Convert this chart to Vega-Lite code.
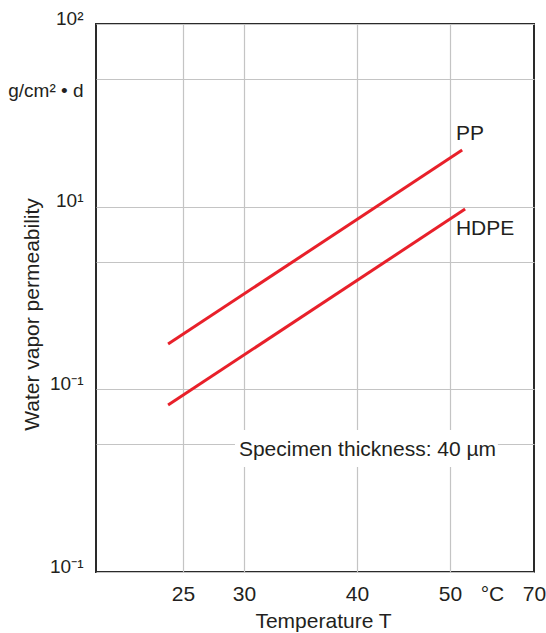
{
  "$schema": "https://vega.github.io/schema/vega-lite/v6.json",
  "width": 438,
  "height": 548,
  "autosize": {"type": "none"},
  "padding": {"left": 96, "top": 24, "right": 12, "bottom": 61},
  "background": "white",
  "config": {
    "font": "Liberation Sans",
    "view": {"stroke": "#2a2a2a", "strokeWidth": 2},
    "text": {"font": "Liberation Sans", "color": "#231f20"}
  },
  "datasets": {
    "curves": [
      {"material": "PP", "t": 23.8, "p": 1.77},
      {"material": "PP", "t": 52.9, "p": 20.4},
      {"material": "HDPE", "t": 23.8, "p": 0.82},
      {"material": "HDPE", "t": 53.6, "p": 9.7}
    ],
    "labels": [
      {"name": "PP", "t": 51.4, "p": 25},
      {"name": "HDPE", "t": 51.4, "p": 7.55}
    ],
    "note": [
      {"name": "Specimen thickness: 40 µm", "t": 41.13, "p": 0.431, "t_lo": 29.26, "t_hi": 61.4, "p_lo": 0.376, "p_hi": 0.599}
    ]
  },
  "layer": [
    {
      "data": {"name": "note"},
      "mark": {"type": "rect", "fill": "white", "stroke": null},
      "encoding": {
        "x": {"field": "t_lo", "type": "quantitative"},
        "x2": {"field": "t_hi"},
        "y": {"field": "p_lo", "type": "quantitative"},
        "y2": {"field": "p_hi"}
      }
    },
    {
      "data": {"name": "curves"},
      "mark": {"type": "line", "color": "#e8202a", "strokeWidth": 3, "strokeCap": "butt"},
      "encoding": {
        "x": {
          "field": "t",
          "type": "quantitative",
          "scale": {
            "type": "linear",
            "domain": [18, 25, 30, 40, 50, 60, 70],
            "range": [0, 87, 148, 261, 354, 396, 438],
            "nice": false,
            "zero": false
          },
          "axis": {
            "title": "Temperature T",
            "values": [25, 30, 40, 50, 60, 70],
            "labelExpr": "datum.value == 60 ? '°C' : datum.label",
            "ticks": false,
            "domain": false,
            "labelFontSize": 21,
            "labelColor": "#231f20",
            "labelPadding": 11,
            "labelOverlap": false,
            "labelBound": false,
            "labelFlush": false,
            "grid": true,
            "gridColor": "#c4c4c4",
            "gridWidth": 1.2,
            "gridOpacity": {"condition": {"test": "datum.value >= 60", "value": 0}, "value": 1},
            "titleFontSize": 21,
            "titleFontWeight": "normal",
            "titleColor": "#231f20",
            "titleX": 227,
            "titleY": 55,
            "titleAlign": "center",
            "titleBaseline": "alphabetic"
          }
        },
        "y": {
          "field": "p",
          "type": "quantitative",
          "scale": {"type": "log", "domain": [0.1, 100], "nice": false},
          "axis": {
            "title": "Water vapor permeability",
            "values": [0.1, 0.5, 1, 5, 10, 40, 50, 100],
            "labelExpr": "abs(datum.value - 100) < 0.01 ? '10²' : abs(datum.value - 10) < 0.01 ? '10¹' : abs(datum.value - 1) < 0.01 ? '10⁻¹' : abs(datum.value - 0.1) < 0.001 ? '10⁻¹' : abs(datum.value - 40) < 0.01 ? 'g/cm² • d' : ''",
            "ticks": false,
            "domain": false,
            "labelFontSize": 19,
            "labelColor": "#231f20",
            "labelPadding": 13,
            "labelBaseline": "alphabetic",
            "labelOverlap": false,
            "labelBound": false,
            "labelFlush": false,
            "grid": true,
            "gridColor": "#c4c4c4",
            "gridWidth": 1.2,
            "gridOpacity": {"condition": {"test": "abs(datum.value - 40) < 0.01", "value": 0}, "value": 1},
            "titleFontSize": 21,
            "titleFontWeight": "normal",
            "titleColor": "#231f20",
            "titleAngle": -90,
            "titleX": -58,
            "titleY": 290,
            "titleAlign": "center",
            "titleBaseline": "alphabetic"
          }
        },
        "detail": {"field": "material", "type": "nominal"}
      }
    },
    {
      "data": {"name": "labels"},
      "mark": {"type": "text", "fontSize": 21, "align": "left", "baseline": "middle"},
      "encoding": {
        "x": {"field": "t", "type": "quantitative"},
        "y": {"field": "p", "type": "quantitative"},
        "text": {"field": "name"}
      }
    },
    {
      "data": {"name": "note"},
      "mark": {"type": "text", "fontSize": 21, "align": "center", "baseline": "alphabetic"},
      "encoding": {
        "x": {"field": "t", "type": "quantitative"},
        "y": {"field": "p", "type": "quantitative"},
        "text": {"field": "name"}
      }
    }
  ]
}
